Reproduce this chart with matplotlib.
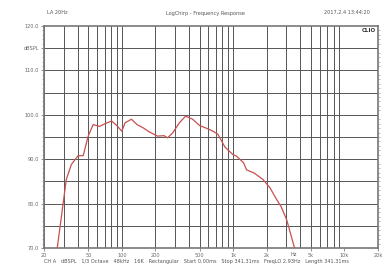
import numpy as np
from matplotlib import pyplot as plt
from matplotlib.ticker import FixedLocator, NullFormatter

# frequency response (Hz, dBSPL)
freq = [26.3, 31.7, 35.2, 40.5, 45, 49.9, 55.3, 63.5, 70.6, 81, 90, 100, 107, 122,
        137, 157, 175, 209, 240, 257, 286, 329, 374, 433, 498, 573, 660, 730, 845,
        1000, 1070, 1240, 1320, 1540, 1860, 2150, 2420, 2700, 3030, 3400, 3560]
spl = [70.0, 85.4, 88.8, 90.8, 90.8, 95.2, 97.8, 97.4, 98.0, 98.6, 97.6, 96.3, 98.2, 99.0,
       97.8, 97.0, 96.2, 95.2, 95.3, 94.8, 95.9, 98.2, 99.7, 99.0, 97.6, 97.0, 96.3, 95.6, 92.7,
       91.0, 90.7, 89.2, 87.6, 86.9, 85.4, 83.5, 81.2, 79.3, 76.3, 71.8, 70.0]

x_ticks = [20, 50, 100, 200, 500, 1000, 2000, 5000, 10000, 20000]
x_labels = ['20', '50', '100', '200', '500', '1k', '2k', '5k', '10k', '20k']
y_ticks = [70, 80, 90, 100, 110, 115, 120]
y_labels = ['70.0', '80.0', '90.0', '100.0', '110.0', 'dBSPL', '120.0']

grid_f = [m * 10**e for e in (1, 2, 3) for m in range(1, 10) if 20 <= m * 10**e <= 20000] + [20000]

fig = plt.figure(figsize=(3.91, 2.72), dpi=100)
ax = fig.add_axes([44/391, 24/272, 334/391, 222/272])

txt = dict(fontsize=3.6, color='#555555')

# log grid: every 1..9 multiple, horizontal every 5 dB
for f in grid_f:
    ax.axvline(f, color='#555555', lw=0.7, zorder=1)
for y in range(75, 120, 5):
    ax.axhline(y, color='#555555', lw=0.7, zorder=1)

ax.plot(freq, spl, color='#c8504f', lw=0.9, zorder=3)

ax.set_xscale('log')
ax.set_xlim(20, 20000)
ax.set_ylim(70, 120)
ax.xaxis.set_major_locator(FixedLocator(x_ticks))
ax.set_xticklabels(x_labels, **txt)
ax.xaxis.set_minor_formatter(NullFormatter())
ax.xaxis.set_minor_locator(FixedLocator([]))
ax.set_yticks(y_ticks)
ax.set_yticklabels(y_labels, **txt)
ax.yaxis.set_minor_locator(FixedLocator(np.arange(70, 120, 1)))
ax.tick_params(axis='both', which='major', length=2, width=0.5, pad=1.5, colors='#666666')
ax.tick_params(axis='y', which='minor', length=1.2, width=0.4, colors='#888888', right=True)
for s in ax.spines.values():
    s.set_color('#777777')
    s.set_linewidth(1.2)

ax.text(3500, 69.1, 'Hz', ha='center', va='top', **txt)
ax.text(0.995, 0.99, 'CLIO', transform=ax.transAxes, ha='right', va='top',
        fontsize=4, fontweight='bold', color='#333333')

fig.text(57/391, 1 - 13/272, 'LA 20Hz', ha='center', va='center', **txt)
fig.text(205/391, 1 - 13/272, 'LogChirp - Frequency Response', ha='center', va='center', **txt)
fig.text(347/391, 1 - 13/272, '2017.2.4 13:44:20', ha='center', va='center', **txt)
fig.text(44/391, 1 - 262/272,
         'CH A   dBSPL   1/3 Octave   48kHz   16K   Rectangular   Start 0.00ms   '
         'Stop 341.31ms   FreqLO 2.93Hz   Length 341.31ms',
         ha='left', va='center', **txt)

plt.savefig('out.png', dpi=100)
plt.close()
